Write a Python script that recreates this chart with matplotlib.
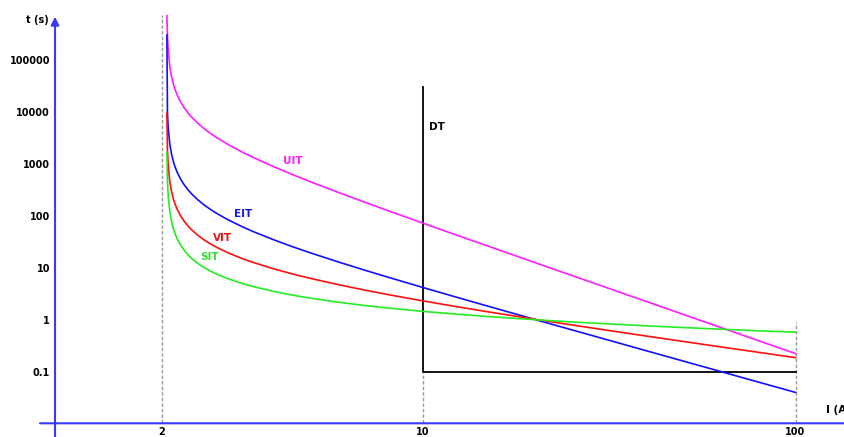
import matplotlib
matplotlib.use("Agg")
import matplotlib.pyplot as plt
from matplotlib.ticker import NullLocator

# current (A) and tripping time (s)
current = [2.063, 2.07, 2.08, 2.1, 2.12, 2.15, 2.17, 2.2, 2.25, 2.3, 2.35, 2.4, 2.5, 2.6,
           2.7, 2.8, 3, 3.25, 3.5, 4, 4.5, 5, 6, 7, 8, 10, 12, 15, 20, 25, 30, 40, 50,
           60, 70, 80, 100]
uit = [7.0e5, 3.05e5, 1.52e5, 75450, 49940, 32940, 26760, 20800, 15060, 11720, 9530,
       7990, 5970, 4706, 3844, 3220, 2383, 1748, 1345, 874, 614, 454, 276, 183, 129.4,
       73.0, 45.9, 26.2, 12.7, 7.26, 4.60, 2.24, 1.281, 0.812, 0.552, 0.395, 0.226]
eit = [3.0e5, 9817, 4896, 2437, 1617, 1070, 871, 680, 495, 387.4, 317.0, 267.4, 202.1,
       161.2, 133.1, 112.7, 85.2, 64.2, 50.6, 34.5, 25.3, 19.53, 12.77, 9.06, 6.78, 4.23,
       2.90, 1.837, 1.025, 0.653, 0.453, 0.254, 0.1625, 0.1128, 0.0828, 0.0634, 0.0406]
vit = [9300, 1854, 927, 463.5, 309.0, 206.0, 168.5, 132.4, 97.6, 77.3, 63.9, 54.5, 42.1,
       34.3, 29.0, 25.05, 19.72, 15.58, 12.88, 9.56, 7.60, 6.31, 4.71, 3.75, 3.12, 2.335,
       1.865, 1.433, 1.034, 0.808, 0.664, 0.489, 0.387, 0.320, 0.273, 0.238, 0.189]
sit = [1710, 487, 244, 122.5, 82.1, 55.1, 45.3, 35.8, 26.7, 21.4, 17.9, 15.4, 12.15,
       10.1, 8.69, 7.66, 6.25, 5.15, 4.42, 3.53, 2.99, 2.63, 2.18, 1.90, 1.71, 1.468,
       1.314, 1.164, 1.014, 0.921, 0.857, 0.771, 0.716, 0.676, 0.645, 0.619, 0.584]

# definite time characteristic
dt_current = [10, 10, 100]
dt_time = [3.0e4, 0.1, 0.1]

x_ticks = [2, 10, 100]
y_ticks = [0.1, 1, 10, 100, 1000, 10000, 100000]
y_labels = ["0.1", "1", "10", "100", "1000", "10000", "100000"]

W, H = 845, 437
AXIS_BLUE = "#3838ff"


def fx(px):
    return px / W


def fy(py):
    return 1 - py / H


fig = plt.figure(figsize=(W / 100, H / 100), dpi=100)
ax = fig.add_axes([fx(55), fy(423.3), 1 - fx(55), 423.3 / H])
ax.set_xscale("log")
ax.set_yscale("log")
ax.set_xlim(1.034, 135.7)
ax.set_ylim(0.01036, 1.406e6)
for s in ax.spines.values():
    s.set_visible(False)

bottom = ax.get_ylim()[0]
dash = (0, (2.5, 1.5))
ax.vlines(2, bottom, 7.2e5, colors="#9a9a9a", lw=1, linestyles=dash)
ax.vlines(10, bottom, 0.1, colors="#9a9a9a", lw=1, linestyles=dash)
ax.vlines(100, bottom, 0.9, colors="#9a9a9a", lw=1, linestyles=dash)

ax.plot(dt_current, dt_time, color="black", lw=1.3)
curve_style = dict(lw=1.2, solid_joinstyle="round")
ax.plot(current, uit, color="#ff1cff", **curve_style)
ax.plot(current, eit, color="#1010ff", **curve_style)
ax.plot(current, vit, color="#ff1010", **curve_style)
ax.plot(current, sit, color="#22ee22", **curve_style)

ax.set_xticks(x_ticks)
ax.set_xticklabels([str(v) for v in x_ticks])
ax.set_yticks(y_ticks)
ax.set_yticklabels(y_labels)
ax.xaxis.set_minor_locator(NullLocator())
ax.yaxis.set_minor_locator(NullLocator())
ax.tick_params(axis="both", length=0, labelsize=7)
ax.tick_params(axis="y", pad=3.6)
ax.tick_params(axis="x", pad=3.0)
for lab in ax.get_xticklabels() + ax.get_yticklabels():
    lab.set_fontweight("bold")

# axis lines with arrow on the time axis
ax.annotate("", xy=(fx(55), fy(16.7)), xytext=(fx(55), 0), xycoords="figure fraction",
            arrowprops=dict(arrowstyle="-|>", color=AXIS_BLUE, lw=1.5,
                            mutation_scale=12, shrinkA=0, shrinkB=0))
ax.annotate("", xy=(1, fy(423.3)), xytext=(fx(40), fy(423.3)), xycoords="figure fraction",
            arrowprops=dict(arrowstyle="-", color=AXIS_BLUE, lw=1.5, shrinkA=0, shrinkB=0))

fig.text(fx(37.3), fy(20), "t (s)", fontsize=7, fontweight="bold", ha="center", va="center")
fig.text(fx(826), fy(410), "I (A", fontsize=7.5, fontweight="bold", ha="left", va="center")
fig.text(fx(436.7), fy(126.7), "DT", fontsize=7.5, fontweight="bold", ha="center", va="center")

labels = [("UIT", 292.5, 160.8, "#ff1cff"), ("EIT", 243.3, 214, "#1515e8"),
          ("VIT", 222.7, 238.3, "#ee1111"), ("SIT", 209.3, 257.3, "#33dd33")]
for txt, px, py, c in labels:
    fig.text(fx(px), fy(py), txt, fontsize=7.5, fontweight="bold", color=c,
             ha="center", va="center")

fig.savefig("out.png", dpi=100)
